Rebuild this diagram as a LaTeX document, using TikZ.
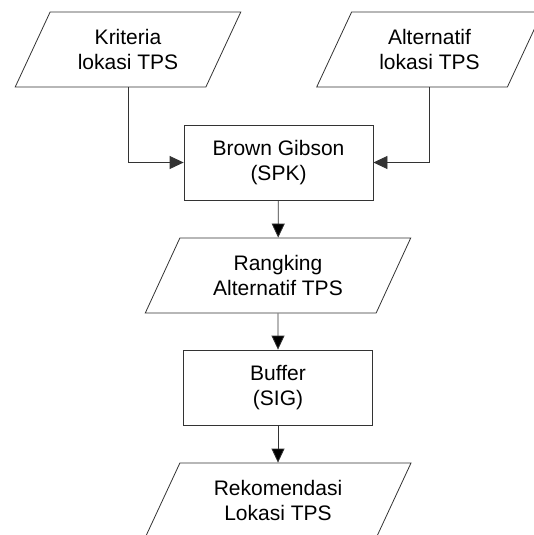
\documentclass[tikz,border=0pt]{standalone}
\usepackage{fontspec}
\setmainfont{Liberation Sans}
\usetikzlibrary{arrows.meta, shapes.geometric}

\begin{document}
\begin{tikzpicture}[x=1pt, y=-1pt, >={Triangle[length=14pt, width=13pt]}]
				\tikzstyle{proc} = [draw=black!80, line width=0.8pt, rectangle, minimum width=189pt, minimum height=75pt, align=center, font=\fontsize{21}{25}\selectfont]
				\tikzstyle{data} = [draw=black!80, line width=0.8pt, trapezium, trapezium left angle=63, trapezium right angle=117, trapezium stretches=true, minimum height=75pt, align=center, font=\fontsize{21}{25}\selectfont]
				\tikzstyle{link} = [draw=black!80, line width=0.8pt]
				
				\useasboundingbox (0, 0) rectangle (534, 535);
				
				\node[data, minimum width=226pt] 	at (128, 49.5) 		(krit) 	{Kriteria\\lokasi TPS};
				\node[data, minimum width=226pt] 	at (429.5, 49.5)	(alt) 	{Alternatif\\lokasi TPS};
				\node[proc] 	at (278.5, 162.5) 		(bg) 	{Brown Gibson\\(SPK)};
				\node[data, minimum width=266pt] 	at (278, 275.5) 	(rank) 	{Rangking\\Alternatif TPS};
				\node[proc] 	at (278, 387.5) 		(buf) 	{Buffer\\(SIG)};
				\node[data, minimum width=266pt] 	at (278, 500.5) 	(rek) 	{Rekomendasi\\Lokasi TPS};
				
				\draw[link, ->] (krit.south) |- (bg.west);
				\draw[link, ->] (alt.south) |- (bg.east);
				\path[link, ->]
				(bg)	edge	(rank)
				(rank)	edge	(buf)
				(buf)	edge	(rek);
\end{tikzpicture}
\end{document}
